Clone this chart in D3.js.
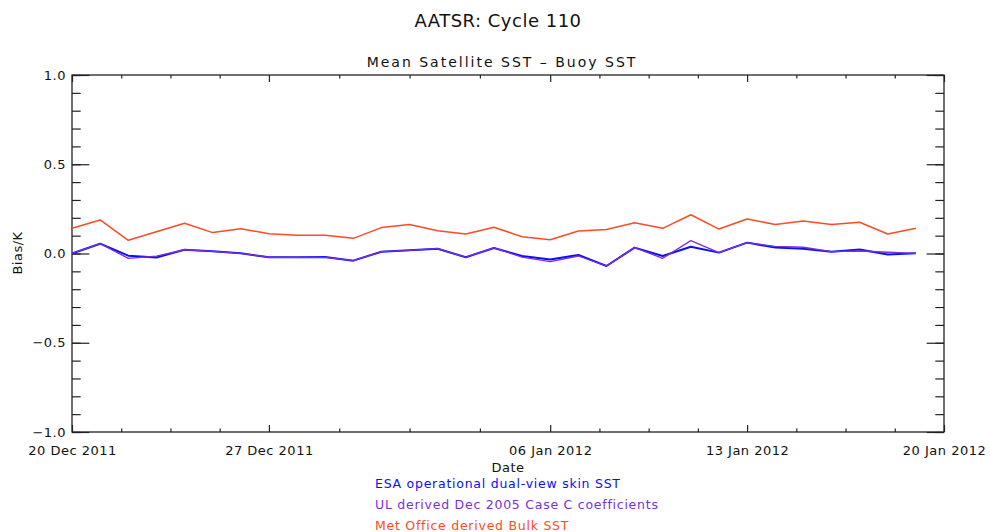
<!DOCTYPE html>
<html>
<head>
<meta charset="utf-8">
<script src="https://cdn.jsdelivr.net/npm/d3@7/dist/d3.min.js"></script>
<style>
  html, body { margin: 0; padding: 0; background: #fff; }
  svg { display: block; font-family: "DejaVu Sans", sans-serif; }
</style>
</head>
<body>
<svg id="chart" width="990" height="532"></svg>
<script>
// Daily matchup dates (one value per day)
const dates = [
  "2011-12-20","2011-12-21","2011-12-22","2011-12-23","2011-12-24","2011-12-25",
  "2011-12-26","2011-12-27","2011-12-28","2011-12-29","2011-12-30","2011-12-31",
  "2012-01-01","2012-01-02","2012-01-03","2012-01-04","2012-01-05","2012-01-06",
  "2012-01-07","2012-01-08","2012-01-09","2012-01-10","2012-01-11","2012-01-12",
  "2012-01-13","2012-01-14","2012-01-15","2012-01-16","2012-01-17","2012-01-18",
  "2012-01-19"
];

// Mean satellite SST minus buoy SST (K)
const esaBias = [
  0.000, 0.055, -0.012, -0.022, 0.021, 0.012, 0.001, -0.021, -0.021, -0.020,
  -0.040, 0.010, 0.018, 0.027, -0.021, 0.031, -0.014, -0.033, -0.008, -0.070,
  0.033, -0.014, 0.038, 0.005, 0.061, 0.033, 0.027, 0.010, 0.023, -0.005, 0.001
];
const ulBias = [
  0.000, 0.055, -0.027, -0.015, 0.021, 0.012, 0.001, -0.021, -0.021, -0.022,
  -0.040, 0.010, 0.018, 0.027, -0.021, 0.031, -0.020, -0.046, -0.014, -0.070,
  0.033, -0.027, 0.072, 0.005, 0.061, 0.040, 0.035, 0.010, 0.014, 0.007, 0.001
];
const metBias = [
  0.141, 0.188, 0.074, 0.122, 0.169, 0.117, 0.139, 0.111, 0.102, 0.102,
  0.085, 0.145, 0.163, 0.128, 0.109, 0.147, 0.094, 0.077, 0.126, 0.135,
  0.172, 0.141, 0.217, 0.137, 0.193, 0.163, 0.182, 0.163, 0.175, 0.109, 0.141
];

const seriesNames = [
  "ESA operational dual-view skin SST",
  "UL derived Dec 2005 Case C coefficients",
  "Met Office derived Bulk SST"
];
const seriesColors = ["#0c0cff", "#7a2fd6", "#ff4a26"];

// Axis settings
const xDomain = ["2011-12-20", "2012-01-20"];
const xMajorTicks = ["2011-12-20", "2011-12-27", "2012-01-06", "2012-01-13", "2012-01-20"];
const xMinorPerMajor = 4;
const yDomain = [-1, 1];
const yMajorTicks = [-1.0, -0.5, 0.0, 0.5, 1.0];
const yMinorTicks = d3.range(-10, 11).map(v => v / 10);

const titleText = "AATSR: Cycle 110";
const subtitleText = "Mean Satellite SST \u2013 Buoy SST";
const xLabel = "Date";
const yLabel = "Bias/K";

(function () {
  const parse = d3.utcParse("%Y-%m-%d");
  const fmtDate = d3.utcFormat("%d %b %Y");

  const svg = d3.select("#chart");
  const plotL = 72, plotR = 944, plotT = 75, plotB = 432;

  const x = d3.scaleUtc().domain(xDomain.map(parse)).range([plotL, plotR]);
  const y = d3.scaleLinear().domain(yDomain).range([plotB, plotT]);

  const axisColor = "#222";
  const yMajorLen = 17.4, yMinorLen = 8.7, xMajorLen = 7, xMinorLen = 3.5;

  // Minor x ticks: each major interval split evenly
  const majorDates = xMajorTicks.map(parse);
  const xMinor = [];
  for (let i = 0; i < majorDates.length - 1; i++) {
    const a = +majorDates[i], b = +majorDates[i + 1];
    for (let k = 1; k < xMinorPerMajor; k++) xMinor.push(new Date(a + (b - a) * k / xMinorPerMajor));
  }

  function styleAxis(g) {
    g.select(".domain").remove();
    g.selectAll("line").attr("stroke", axisColor).attr("stroke-width", 1.2);
    g.selectAll("text").attr("fill", "#111").attr("font-size", 13)
      .attr("letter-spacing", 0.5).attr("font-family", "DejaVu Sans, sans-serif");
  }

  // Bottom axis (labelled)
  svg.append("g").attr("transform", `translate(0,${plotB})`)
    .call(d3.axisBottom(x).tickValues(majorDates).tickSizeInner(-xMajorLen).tickSizeOuter(0)
      .tickPadding(14).tickFormat(fmtDate))
    .call(styleAxis);
  svg.append("g").attr("transform", `translate(0,${plotB})`)
    .call(d3.axisBottom(x).tickValues(xMinor).tickSizeInner(-xMinorLen).tickSizeOuter(0).tickFormat(""))
    .call(styleAxis);
  // Top axis (ticks only)
  svg.append("g").attr("transform", `translate(0,${plotT})`)
    .call(d3.axisTop(x).tickValues(majorDates).tickSizeInner(-xMajorLen).tickSizeOuter(0).tickFormat(""))
    .call(styleAxis);
  svg.append("g").attr("transform", `translate(0,${plotT})`)
    .call(d3.axisTop(x).tickValues(xMinor).tickSizeInner(-xMinorLen).tickSizeOuter(0).tickFormat(""))
    .call(styleAxis);

  // Left axis (labelled)
  svg.append("g").attr("transform", `translate(${plotL},0)`)
    .call(d3.axisLeft(y).tickValues(yMajorTicks).tickSizeInner(-yMajorLen).tickSizeOuter(0)
      .tickPadding(6).tickFormat(d3.format(".1f")))
    .call(styleAxis);
  svg.append("g").attr("transform", `translate(${plotL},0)`)
    .call(d3.axisLeft(y).tickValues(yMinorTicks).tickSizeInner(-yMinorLen).tickSizeOuter(0).tickFormat(""))
    .call(styleAxis);
  // Right axis (ticks only)
  svg.append("g").attr("transform", `translate(${plotR},0)`)
    .call(d3.axisRight(y).tickValues(yMajorTicks).tickSizeInner(-yMajorLen).tickSizeOuter(0).tickFormat(""))
    .call(styleAxis);
  svg.append("g").attr("transform", `translate(${plotR},0)`)
    .call(d3.axisRight(y).tickValues(yMinorTicks).tickSizeInner(-yMinorLen).tickSizeOuter(0).tickFormat(""))
    .call(styleAxis);

  // Plot frame
  svg.append("rect")
    .attr("x", plotL).attr("y", plotT).attr("width", plotR - plotL).attr("height", plotB - plotT)
    .attr("fill", "none").attr("stroke", axisColor).attr("stroke-width", 1.3);

  // Series lines
  const seriesData = [esaBias, ulBias, metBias];
  const widths = [2, 1.3, 1.5];
  const line = d3.line().x((d, i) => x(parse(dates[i]))).y(d => y(d));
  seriesData.forEach((vals, s) => {
    svg.append("path").datum(vals)
      .attr("d", line)
      .attr("fill", "none")
      .attr("stroke", seriesColors[s])
      .attr("stroke-width", widths[s])
      .attr("stroke-linejoin", "round");
  });

  // Titles and axis labels
  svg.append("text").attr("x", 498).attr("y", 27).attr("text-anchor", "middle")
    .attr("font-size", 18).attr("letter-spacing", 0.5).attr("fill", "#111").text(titleText);
  svg.append("text").attr("x", 502).attr("y", 67).attr("text-anchor", "middle")
    .attr("font-size", 14).attr("letter-spacing", 2).attr("fill", "#111").text(subtitleText);
  svg.append("text").attr("x", 508).attr("y", 472).attr("text-anchor", "middle")
    .attr("font-size", 13).attr("letter-spacing", 0.5).attr("fill", "#111").text(xLabel);
  svg.append("text").attr("transform", "translate(22,253) rotate(-90)").attr("text-anchor", "middle")
    .attr("font-size", 13).attr("letter-spacing", 0.5).attr("fill", "#111").text(yLabel);

  // Legend as coloured text lines
  const legendY = [488, 509, 530];
  seriesNames.forEach((name, i) => {
    svg.append("text").attr("x", 375).attr("y", legendY[i])
      .attr("font-size", 12.5).attr("letter-spacing", 0.75)
      .attr("fill", seriesColors[i]).text(name);
  });
})();
</script>
</body>
</html>
